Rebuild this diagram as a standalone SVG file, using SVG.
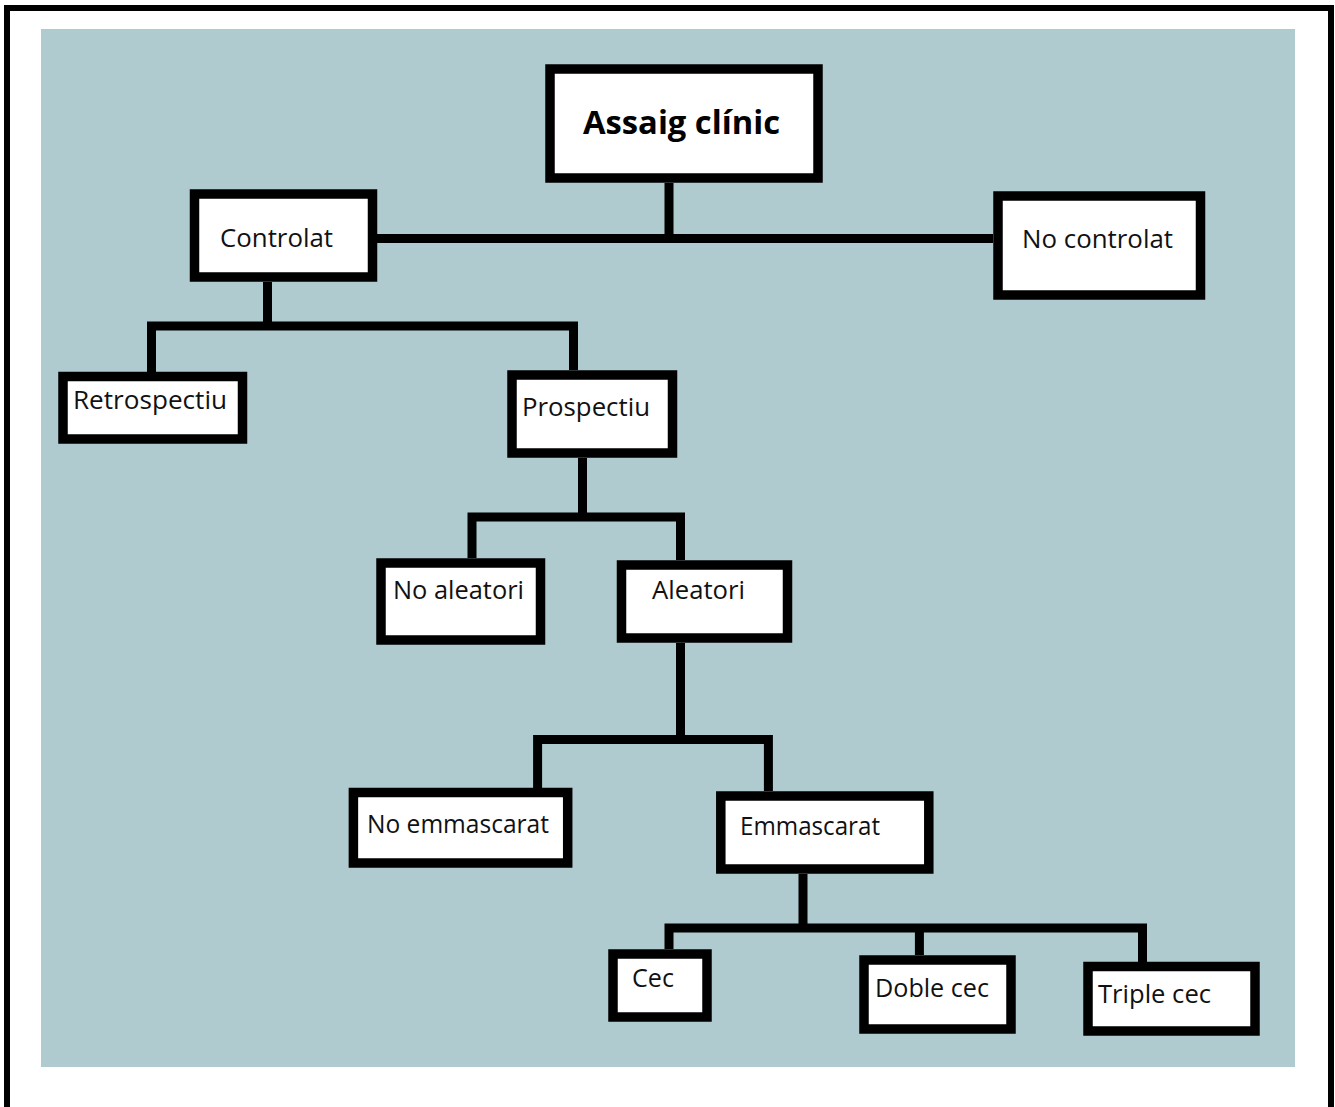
<svg xmlns="http://www.w3.org/2000/svg" width="1335" height="1107" viewBox="0 0 1335 1107">
<style>
.box{fill:#ffffff;stroke:#000000;stroke-width:9.5}
.ln{fill:none;stroke:#000000;stroke-width:9;stroke-linejoin:miter}
.t{font-family:"Open Sans","Noto Sans","Liberation Sans",sans-serif;font-size:26px;fill:#111111}
.tb{font-family:"Open Sans","Noto Sans","Liberation Sans",sans-serif;font-size:33px;font-weight:bold;fill:#000000}
</style>
<rect x="7" y="8" width="1324" height="1112" fill="#ffffff" stroke="#000000" stroke-width="6"/>
<rect x="41" y="29" width="1254" height="1038" fill="#b0cbcf"/>
<g id="connectors">
<path class="ln" d="M669,183 V238.5 M377,238.5 H993"/>
<path class="ln" d="M267.5,282 V326 M151.5,372 V326 H573.5 V370"/>
<path class="ln" d="M582.5,458 V517 M472,558 V517 H680.5 V560"/>
<path class="ln" d="M680.5,643 V739.5 M537.6,788 V739.5 H768.4 V791"/>
<path class="ln" d="M803,874 V928 M669,949 V928 H1142.5 V962 M919.4,928 V955"/>
</g>
<g id="n-assaig"><rect class="box" x="550" y="69" width="268" height="109"/><text class="tb" x="583" y="134" textLength="197" lengthAdjust="spacingAndGlyphs">Assaig clínic</text></g>
<g id="n-controlat"><rect class="box" x="194.5" y="194" width="178" height="83"/><text class="t" x="220" y="247" textLength="113" lengthAdjust="spacingAndGlyphs">Controlat</text></g>
<g id="n-nocontrolat"><rect class="box" x="998" y="196" width="202.5" height="99"/><text class="t" x="1022" y="248" textLength="151" lengthAdjust="spacingAndGlyphs">No controlat</text></g>
<g id="n-retrospectiu"><rect class="box" x="63" y="376.5" width="179.5" height="62.5"/><text class="t" x="73" y="409" textLength="154" lengthAdjust="spacingAndGlyphs">Retrospectiu</text></g>
<g id="n-prospectiu"><rect class="box" x="512" y="375" width="160.5" height="78"/><text class="t" x="522" y="416" textLength="128" lengthAdjust="spacingAndGlyphs">Prospectiu</text></g>
<g id="n-noaleatori"><rect class="box" x="381" y="563" width="159.5" height="77"/><text class="t" x="393" y="599" textLength="131" lengthAdjust="spacingAndGlyphs">No aleatori</text></g>
<g id="n-aleatori"><rect class="box" x="621.5" y="565" width="166" height="73"/><text class="t" x="652" y="599" textLength="93" lengthAdjust="spacingAndGlyphs">Aleatori</text></g>
<g id="n-noemmascarat"><rect class="box" x="353.4" y="792.5" width="214.3" height="70.5"/><text class="t" x="367" y="833" textLength="182" lengthAdjust="spacingAndGlyphs">No emmascarat</text></g>
<g id="n-emmascarat"><rect class="box" x="720.8" y="796" width="208" height="73"/><text class="t" x="740" y="835" textLength="140" lengthAdjust="spacingAndGlyphs">Emmascarat</text></g>
<g id="n-cec"><rect class="box" x="613" y="954" width="94" height="63"/><text class="t" x="632" y="987" textLength="42" lengthAdjust="spacingAndGlyphs">Cec</text></g>
<g id="n-doblecec"><rect class="box" x="864" y="960" width="147" height="69"/><text class="t" x="875" y="997" textLength="114" lengthAdjust="spacingAndGlyphs">Doble cec</text></g>
<g id="n-triplecec"><rect class="box" x="1088" y="966.5" width="167" height="64.5"/><text class="t" x="1098" y="1003" textLength="113" lengthAdjust="spacingAndGlyphs">Triple cec</text></g>
</svg>
